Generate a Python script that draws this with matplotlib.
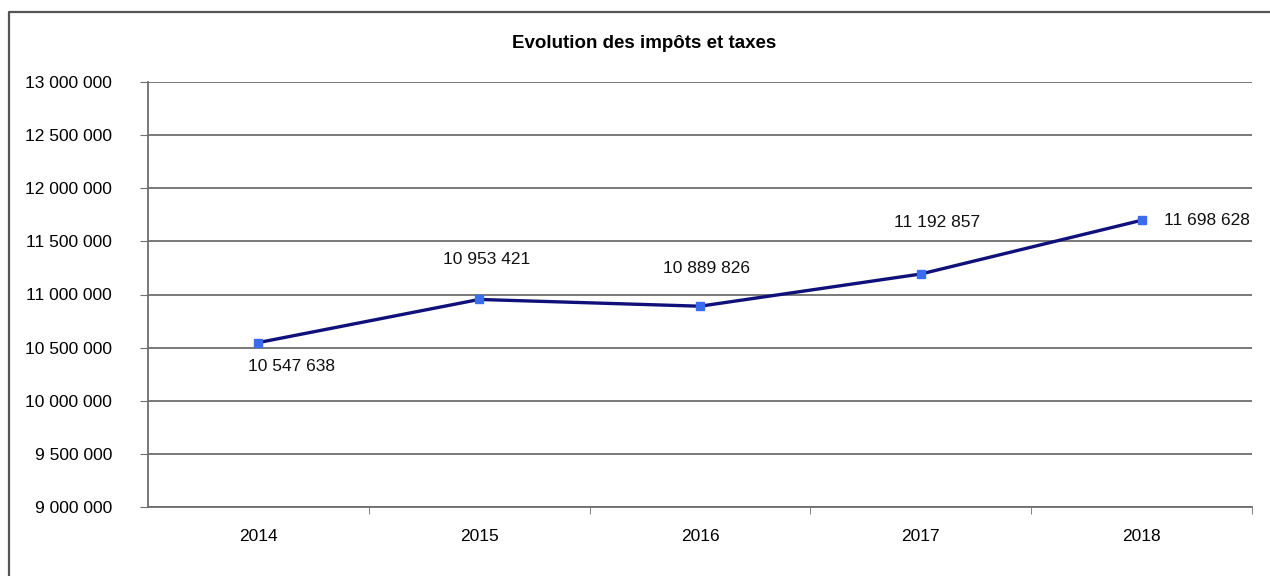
import matplotlib
matplotlib.use("Agg")
import matplotlib.pyplot as plt
from matplotlib.lines import Line2D
from matplotlib.ticker import FuncFormatter, FixedLocator

years = ["2014", "2015", "2016", "2017", "2018"]
values = [10547638, 10953421, 10889826, 11192857, 11698628]
labels = ["10 547 638", "10 953 421", "10 889 826", "11 192 857", "11 698 628"]

plt.rcParams["font.family"] = ["Liberation Sans", "DejaVu Sans"]

fig = plt.figure(figsize=(12.7, 5.76), dpi=100)
ax = fig.add_axes([148 / 1270, 69 / 576, 1104 / 1270, 425 / 576])

# outer chart border (only top and left edges fall inside the picture)
bx, by = 9 / 1270, 1 - 12 / 576
fig.lines.append(Line2D([bx, bx, 1.0], [0.0, by, by], transform=fig.transFigure,
                        color="#555555", lw=1.6))

x = list(range(len(years)))
ax.plot(x, values, color="#10107a", lw=2.4, zorder=3)
ax.plot(x, values, ls="none", marker="s", ms=6, color="#3a6cf0", zorder=4)

ax.set_xlim(-0.5, len(years) - 0.5)
ax.set_ylim(9000000, 13000000)
ax.set_yticks(range(9000000, 13000001, 500000))
ax.yaxis.set_major_formatter(FuncFormatter(lambda v, p: f"{int(v):,}".replace(",", " ")))
ax.set_xticks(x)
ax.set_xticklabels(years)
ax.xaxis.set_minor_locator(FixedLocator([i + 0.5 for i in x]))

ax.grid(axis="y", color="#6e6e6e", lw=1.3)
ax.set_axisbelow(True)
for s in ["top", "right"]:
    ax.spines[s].set_visible(False)
for s in ["left", "bottom"]:
    ax.spines[s].set_color("#6e6e6e")
    ax.spines[s].set_linewidth(1.3)

ax.tick_params(axis="y", length=6, color="#6e6e6e", labelsize=12.5, pad=20)
ax.tick_params(axis="x", which="major", length=0, labelsize=12.5, pad=16)
ax.tick_params(axis="x", which="minor", length=5, color="#6e6e6e")

# data labels
offsets = [(24, -17, "center"), (5, 29, "center"), (5, 27, "center"),
           (12, 37, "center"), (16, 0, "left")]
for xi, v, lab, (dx, dy, ha) in zip(x, values, labels, offsets):
    ax.annotate(lab, (xi, v), xytext=(dx, dy), textcoords="offset points",
                ha=ha, va="center", fontsize=12.5, color="#111111")

fig.text(644 / 1270, 1 - 44 / 576, "Evolution des impôts et taxes", ha="center",
         va="center", fontsize=13.5, fontweight="bold")

fig.savefig("out.png", dpi=100)
